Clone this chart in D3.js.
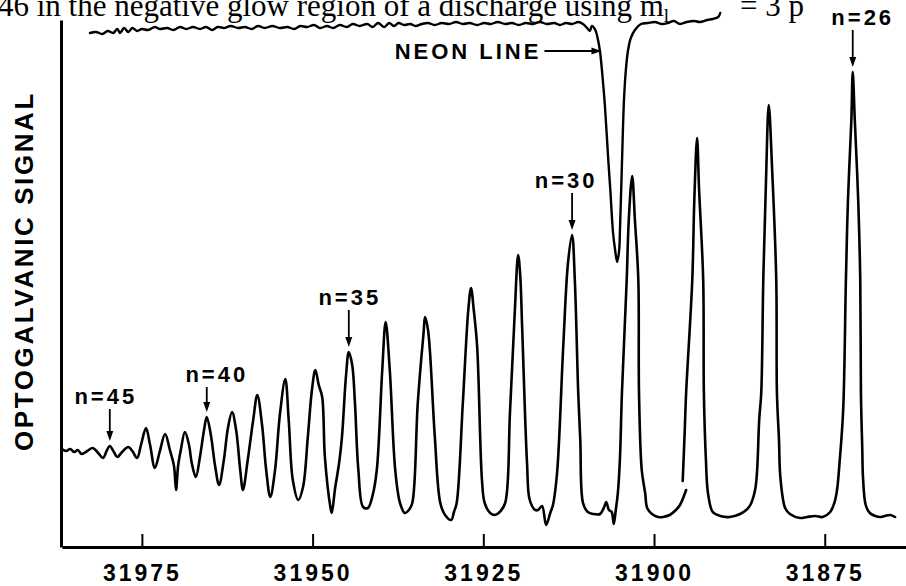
<!DOCTYPE html>
<html>
<head>
<meta charset="utf-8">
<script src="https://cdn.jsdelivr.net/npm/d3@7/dist/d3.min.js"></script>
<style>
  html, body { margin: 0; padding: 0; background: #fff; }
  svg { display: block; }
  .bold { font-family: "Liberation Sans", Arial, sans-serif; font-weight: bold; fill: #000; }
</style>
</head>
<body>
<svg id="chart" width="906" height="586"></svg>
<script>
// Axis ticks (wavenumber, cm^-1)
const tickValues = [31975, 31950, 31925, 31900, 31875];

// Optogalvanic trace: [wavenumber, signal (arb. units)]; null marks a pen lift
const spectrum = [
  [31986.7,19.6],[31986.1,19.2],[31985.5,19.6],[31984.9,19.0],[31984.4,19.4],[31983.8,18.6],
  [31983.0,19.2],[31982.2,19.8],[31981.4,18.8],[31980.7,17.8],[31980.1,19.4],[31979.7,20.2],
  [31979.1,19.0],[31978.6,18.0],[31977.9,19.0],[31977.0,20.0],[31976.4,19.2],[31975.7,17.8],
  [31975.1,20.6],[31974.4,23.8],[31973.8,20.4],[31973.1,15.8],[31972.4,19.0],[31971.6,22.6],
  [31970.9,19.4],[31970.3,16.2],[31970.0,11.4],[31969.7,16.2],[31969.3,19.4],[31968.7,23.0],
  [31968.1,20.4],[31967.7,16.8],[31967.1,14.0],[31966.5,18.0],[31965.9,23.4],[31965.5,26.0],
  [31964.9,22.4],[31964.3,16.4],[31963.7,12.4],[31963.0,17.4],[31962.4,23.8],[31961.8,27.0],
  [31961.2,23.4],[31960.6,15.4],[31960.2,11.4],[31959.5,17.4],[31958.7,25.4],[31958.1,30.4],
  [31957.4,24.4],[31956.8,15.4],[31956.2,10.0],[31955.5,15.4],[31954.8,26.4],[31954.0,33.6],
  [31953.5,25.4],[31952.9,13.4],[31952.1,9.4],[31951.4,12.0],[31950.7,22.0],[31950.1,31.4],
  [31949.6,35.4],[31949.1,32.4],[31948.6,30.0],[31948.2,18.0],[31947.4,8.0],[31947.2,6.8],
  [31946.7,11.8],[31946.1,17.0],[31945.7,22.0],[31945.1,34.4],[31944.7,39.0],[31944.2,36.4],
  [31943.8,28.8],[31943.3,15.4],[31942.6,8.0],[31941.9,7.8],[31941.2,10.4],[31940.6,15.4],
  [31939.8,35.4],[31939.3,45.0],[31938.7,35.4],[31937.9,15.4],[31937.2,8.8],[31936.5,6.8],
  [31935.9,7.4],[31935.4,8.8],[31934.6,28.8],[31933.8,42.0],[31933.5,46.0],[31933.1,43.4],
  [31932.8,38.8],[31932.1,22.0],[31931.3,8.8],[31930.6,6.4],[31929.7,5.4],[31929.3,7.0],
  [31928.9,8.8],[31928.0,28.8],[31927.2,47.4],[31926.8,51.8],[31926.4,47.4],[31925.9,40.0],
  [31925.2,13.4],[31924.8,8.8],[31924.0,6.8],[31923.3,6.4],[31922.6,7.0],[31921.8,8.8],
  [31921.1,26.8],[31920.4,46.8],[31919.9,58.4],[31919.6,54.4],[31919.3,43.4],[31918.6,16.8],
  [31918.2,9.4],[31917.4,7.4],[31917.0,7.4],[31916.4,8.2],[31915.8,4.4],[31915.2,6.8],
  [31914.8,8.4],[31914.2,14.8],[31913.3,40.0],[31912.6,56.8],[31912.0,62.4],[31911.6,53.4],
  [31911.1,30.8],[31910.8,21.4],[31910.4,8.8],[31909.7,7.0],[31908.9,6.6],[31907.9,6.6],
  [31907.3,8.0],[31907.0,9.0],[31906.6,7.4],[31906.2,7.0],[31905.9,4.6],[31905.6,7.4],
  [31905.3,10.8],[31905.0,17.4],[31904.7,30.8],[31904.0,53.4],[31903.7,65.4],[31903.2,74.2],
  [31902.8,65.4],[31902.3,53.4],[31902.2,30.8],[31901.8,15.4],[31901.3,10.8],[31901.0,7.8],
  [31900.3,6.6],[31899.4,6.0],[31898.7,6.0],[31897.7,6.4],[31896.8,7.4],[31896.2,8.4],
  [31895.3,11.4],
  null,
  [31895.8,13.2],[31895.5,23.4],[31895.3,30.8],[31894.4,53.4],[31894.1,69.4],[31893.7,81.8],
  [31893.4,71.4],[31892.8,53.4],[31892.7,30.8],[31892.4,17.4],[31892.1,10.8],[31891.4,7.0],
  [31890.3,6.2],[31888.9,6.0],[31887.4,6.6],[31886.5,7.4],[31885.9,8.4],[31885.2,11.4],
  [31884.9,15.4],[31884.6,25.4],[31884.3,30.8],[31884.0,53.4],[31883.6,73.4],[31883.2,88.4],
  [31882.7,75.4],[31882.1,53.4],[31882.0,30.8],[31881.7,21.4],[31881.5,14.0],[31880.8,7.8],
  [31880.1,6.6],[31878.6,5.8],[31877.6,6.0],[31876.4,6.2],[31875.3,6.0],[31874.2,7.0],
  [31873.6,8.8],[31873.2,11.4],[31872.8,17.4],[31872.3,27.4],[31871.9,53.4],[31871.6,69.4],
  [31871.1,85.4],[31870.9,95.0],[31870.6,85.4],[31870.1,69.4],[31869.8,53.4],[31869.7,30.8],
  [31869.5,19.4],[31869.4,14.0],[31869.0,8.4],[31868.4,6.8],[31867.6,6.2],[31866.9,6.0],
  [31866.2,6.2],[31865.4,6.4],[31864.7,6.0]
];

// Neon reference trace: [wavenumber, signal]
const neonTrace = [
  [31982.6,102.8],[31981.7,103.0],[31980.8,102.6],[31980.0,103.2],[31979.2,102.8],[31978.6,103.6],
  [31978.2,102.8],[31977.6,103.8],[31977.0,103.0],[31976.4,103.8],[31975.7,103.2],[31975.0,103.6],
  [31974.1,103.4],[31973.1,104.0],[31972.4,103.6],[31971.3,103.8],[31970.4,103.4],[31969.4,104.0],
  [31968.5,103.6],[31967.5,104.0],[31966.5,103.6],[31965.6,104.0],[31964.7,103.4],[31963.9,104.0],
  [31963.0,103.8],[31962.0,104.2],[31960.9,103.8],[31959.9,104.0],[31958.9,103.6],[31958.0,104.2],
  [31957.0,103.8],[31955.9,104.2],[31954.8,103.8],[31953.7,104.0],[31952.7,103.6],[31951.8,104.2],
  [31950.8,104.0],[31949.8,104.4],[31948.9,103.8],[31947.9,104.2],[31947.0,103.8],[31946.0,104.4],
  [31945.0,104.0],[31944.1,104.6],[31943.1,104.2],[31942.0,104.6],[31941.2,104.0],[31940.4,104.8],
  [31939.5,104.0],[31938.8,104.8],[31938.1,104.2],[31937.4,104.8],[31936.6,104.4],[31935.7,104.6],
  [31934.9,104.2],[31934.0,104.6],[31933.1,104.8],[31932.1,104.4],[31931.1,104.8],[31930.0,104.6],
  [31929.0,105.0],[31928.0,104.6],[31927.0,104.8],[31925.9,104.4],[31924.9,104.8],[31923.9,104.6],
  [31922.9,105.0],[31921.8,104.6],[31920.8,104.8],[31919.8,104.4],[31918.8,104.8],[31917.7,104.6],
  [31916.7,105.0],[31915.7,104.6],[31914.6,104.8],[31913.8,104.4],[31912.9,104.8],[31912.0,104.6],
  [31911.1,105.0],[31910.4,104.6],[31909.8,103.8],[31909.4,103.2],[31909.1,104.2],[31908.6,103.4],
  [31908.2,101.4],[31907.9,99.0],[31907.5,93.4],[31907.2,88.4],[31906.7,77.4],[31906.4,71.4],
  [31906.0,62.8],[31905.7,59.4],[31905.4,57.0],[31905.1,59.4],[31905.0,62.8],[31904.7,76.6],
  [31904.4,89.4],[31904.1,95.8],[31903.8,99.4],[31903.4,101.8],[31902.8,103.4],[31901.9,104.6],
  [31900.9,104.8],[31899.9,105.0],[31898.8,104.6],[31898.0,104.8],[31897.1,105.2],[31896.2,104.6],
  [31895.2,105.0],[31894.1,105.2],[31893.3,105.0],[31892.2,105.4],[31891.4,105.6],[31890.6,106.0],
  [31890.3,106.8]
];

// Principal quantum number labels and the peaks they point at
const labelN = [45, 40, 35, 30, 26];
const labelWavenumber = [31979.7, 31965.5, 31944.7, 31912.0, 31870.9];
const labelPeakSignal = [20.2, 26.0, 39.0, 62.4, 95.0];

// Neon line marker
const neonLabel = "NEON LINE";
const neonArrowWavenumber = 31907.7;
const neonArrowSignal = 99.2;

const svg = d3.select("#chart");

const x = d3.scaleLinear().domain([31986.7, 31863.1]).range([62, 906]);
const y = d3.scaleLinear().domain([0, 105.4]).range([547, 20]);

// caption fragment running off the top edge
const caption = svg.append("text")
  .attr("x", -2).attr("y", 16)
  .attr("font-family", "'Liberation Serif', 'Times New Roman', serif")
  .attr("font-size", 31)
  .attr("fill", "#000");
caption.append("tspan").text("46 in the negative glow region of a discharge using m");
caption.append("tspan").attr("font-size", 19).attr("dy", 6).text("l");
caption.append("tspan").attr("x", 740).attr("dy", -6).text("= 3 p");

// axes
const xAxis = d3.axisBottom(x)
  .tickValues(tickValues)
  .tickSizeInner(-13)
  .tickSizeOuter(0)
  .tickFormat(d3.format("d"));

const gx = svg.append("g").attr("transform", "translate(0,547)").call(xAxis);
gx.select(".domain").attr("stroke", "#000").attr("stroke-width", 3);
gx.selectAll(".tick line").attr("stroke", "#000").attr("stroke-width", 2);
gx.selectAll(".tick text")
  .attr("class", "bold")
  .attr("y", 34).attr("dy", 0)
  .attr("font-size", 23)
  .attr("letter-spacing", 3)
  .attr("fill", "#000");

const yAxis = d3.axisLeft(y).tickValues([]).tickSizeOuter(0);
const gy = svg.append("g").attr("transform", "translate(61,0)").call(yAxis);
gy.select(".domain").attr("stroke", "#000").attr("stroke-width", 3);

svg.append("text")
  .attr("class", "bold")
  .attr("transform", "translate(33,271) rotate(-90)")
  .attr("text-anchor", "middle")
  .attr("font-size", 26)
  .attr("letter-spacing", 2.6)
  .text("OPTOGALVANIC SIGNAL");

// traces
const line = d3.line()
  .defined(d => d !== null)
  .x(d => x(d[0]))
  .y(d => y(d[1]))
  .curve(d3.curveCatmullRom.alpha(0.5));

svg.append("path")
  .datum(spectrum)
  .attr("d", line)
  .attr("fill", "none")
  .attr("stroke", "#000")
  .attr("stroke-width", 2.6)
  .attr("stroke-linejoin", "round")
  .attr("stroke-linecap", "round");

svg.append("path")
  .datum(neonTrace)
  .attr("d", line)
  .attr("fill", "none")
  .attr("stroke", "#000")
  .attr("stroke-width", 2.4)
  .attr("stroke-linejoin", "round")
  .attr("stroke-linecap", "round");

// n labels with downward arrows
const arrowLen = [32, 25, 37, 37, 37];
const textDx = [-4, 10, 1, -6, 10];
labelN.forEach((n, i) => {
  const ax = x(labelWavenumber[i]);
  const tip = y(labelPeakSignal[i]) - 5;
  const top = tip - arrowLen[i];
  svg.append("line")
    .attr("x1", ax).attr("x2", ax)
    .attr("y1", top).attr("y2", tip - 6)
    .attr("stroke", "#000").attr("stroke-width", 1.8);
  svg.append("path")
    .attr("d", `M${ax - 3.5},${tip - 10}L${ax + 3.5},${tip - 10}L${ax},${tip}Z`)
    .attr("fill", "#000");
  svg.append("text")
    .attr("class", "bold")
    .attr("x", ax + textDx[i]).attr("y", top - 5)
    .attr("text-anchor", "middle")
    .attr("font-size", 22)
    .attr("letter-spacing", 3)
    .text("n=" + n);
});

// neon line annotation
const nax = x(neonArrowWavenumber);
const nay = y(neonArrowSignal);
svg.append("text")
  .attr("class", "bold")
  .attr("x", nax - 60).attr("y", nay + 8)
  .attr("text-anchor", "end")
  .attr("font-size", 22)
  .attr("letter-spacing", 3)
  .text(neonLabel);
svg.append("line")
  .attr("x1", nax - 57).attr("x2", nax - 8)
  .attr("y1", nay).attr("y2", nay)
  .attr("stroke", "#000").attr("stroke-width", 1.8);
svg.append("path")
  .attr("d", `M${nax - 10},${nay - 3.5}L${nax - 10},${nay + 3.5}L${nax},${nay}Z`)
  .attr("fill", "#000");
</script>
</body>
</html>
